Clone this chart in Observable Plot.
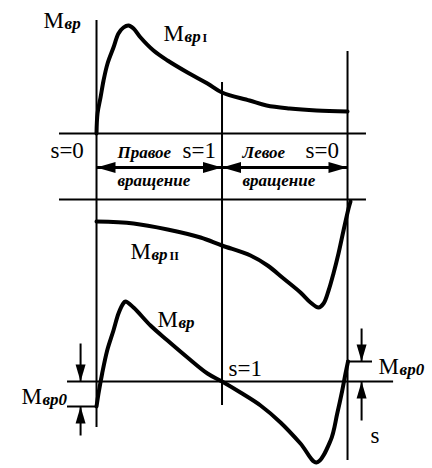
<!DOCTYPE html>
<html>
<head>
<meta charset="utf-8">
<script src="https://cdn.jsdelivr.net/npm/d3@7"></script>
<script src="https://cdn.jsdelivr.net/npm/@observablehq/plot@0.6"></script>
<style>
  html, body { margin: 0; padding: 0; background: #fff; }
  #chart svg { display: block; }
</style>
</head>
<body>
<div id="chart"></div>
<script>
// Horizontal position: 0 = s=0 (right rotation), 1 = s=1 (standstill), 2 = s=0 (left rotation).
// Torques are relative units, positive upward from each panel's zero line.

// Forward-field torque M_вр I
const posI    = [0, 0.008, 0.032, 0.056, 0.088, 0.135, 0.175, 0.215, 0.255, 0.295, 0.351, 0.454, 0.566, 0.725, 0.884, 1.0, 1.219, 1.355, 1.538, 1.753, 2.0];
const torqueI = [0, 0.20, 0.36, 0.53, 0.70, 0.86, 1.00, 1.06, 1.08, 1.05, 0.96, 0.83, 0.73, 0.61, 0.50, 0.41, 0.33, 0.28, 0.25, 0.23, 0.22];

// Backward-field torque M_вр II
const posII    = [0, 0.295, 0.566, 0.829, 1.0, 1.227, 1.363, 1.490, 1.625, 1.705, 1.769, 1.809, 1.849, 1.888, 1.928, 1.968, 2.008, 2.024];
const torqueII = [-0.22, -0.24, -0.30, -0.38, -0.46, -0.56, -0.66, -0.79, -0.93, -1.03, -1.08, -1.04, -0.91, -0.74, -0.54, -0.31, -0.09, -0.02];

// Resulting torque M_вр = M_вр I + M_вр II
const posSum    = [0, 0.016, 0.045, 0.085, 0.135, 0.175, 0.213, 0.231, 0.295, 0.430, 0.566, 0.725, 0.884, 1.0, 1.147, 1.307, 1.466, 1.625, 1.753, 1.865, 1.918, 1.958, 1.984, 2.004];
const torqueSum = [-0.25, -0.12, 0.08, 0.31, 0.51, 0.68, 0.78, 0.80, 0.74, 0.56, 0.41, 0.24, 0.08, 0, -0.11, -0.24, -0.41, -0.62, -0.81, -0.59, -0.32, -0.09, 0.08, 0.20];

// Zero lines of the three panels on the common vertical scale
const zeroI = 3.35, zeroII = 2.69, zeroSum = 0.87;

// Vertical slip axes
const slipAxisPos    = [0, 1, 2];
const slipAxisTop    = [4.48, 3.86, 4.17];
const slipAxisBottom = [0.41, 0.63, 0.08];

// Horizontal lines: torque zero lines and dimension lines for M_вр0
const hLineLevel = [zeroI, zeroII, zeroSum, 0.62, 1.07];
const hLineFrom  = [-0.295, -0.295, -0.231, -0.231, 1.992];
const hLineTo    = [2.151, 2.151, 2.367, 0, 2.199];

// Rotation ranges (double arrows)
const spanLevel = 3.01;
const spanFrom  = [0, 1];
const spanTo    = [1, 2];

// Dimension arrows for M_вр0
const dimPos  = [-0.127, -0.127, 2.112, 2.112];
const dimFrom = [1.25, 0.33, 1.40, 0.48];
const dimTo   = [0.87, 0.62, 1.07, 0.87];

// Labels
const mPos    = [-0.422, 0.534, 0.271, 0.486, -0.598, 2.247];
const mLevel  = [4.41, 4.28, 2.10, 1.42, 0.65, 0.95];
const mSub    = ["вр", "вр", "вр", "вр", "вр0", "вр0"];
const mIndex  = ["", "I", "II", "", "", ""];

const slipText  = ["s=0", "s=1", "s=0", "s=1", "s"];
const slipPos   = [-0.367, 0.685, 1.665, 1.052, 2.183];
const slipLevel = [3.11, 3.11, 3.11, 0.93, 0.26];

const rotText  = ["Правое", "Левое", "вращение", "вращение"];
const rotPos   = [0.167, 1.163, 0.167, 1.163];
const rotLevel = [3.11, 3.11, 2.83, 2.83];

// Build tables
const curves = [
  ...posI.map((u, i) => ({name: "I", u, level: zeroI + torqueI[i]})),
  ...posII.map((u, i) => ({name: "II", u, level: zeroII + torqueII[i]})),
  ...posSum.map((u, i) => ({name: "sum", u, level: zeroSum + torqueSum[i]}))
];
const axes = slipAxisPos.map((u, i) => ({u, top: slipAxisTop[i], bottom: slipAxisBottom[i]}));
const hLines = hLineLevel.map((level, i) => ({level, from: hLineFrom[i], to: hLineTo[i]}));
const spans = spanFrom.map((from, i) => ({from, to: spanTo[i]}));
const spanHeads = spans.flatMap(d => [
  {u: d.from, level: spanLevel, angle: 180},
  {u: d.to, level: spanLevel, angle: 0}
]);
const dims = dimPos.map((u, i) => ({u, from: dimFrom[i], to: dimTo[i]}));
const dimHeads = dims.map(d => ({u: d.u, level: d.to, angle: d.to < d.from ? 90 : -90}));
const mLabels = mPos.map((u, i) => ({u, level: mLevel[i], sub: mSub[i], index: mIndex[i]}));
const slipLabels = slipText.map((text, i) => ({text, u: slipPos[i], level: slipLevel[i]}));
const rotLabels = rotText.map((text, i) => ({text, u: rotPos[i], level: rotLevel[i]}));

// Filled arrowhead pointing along +x with its tip at the anchor point
const arrowHead = (len, half) => ({
  draw(context) {
    context.moveTo(0, 0);
    context.lineTo(-len, -half);
    context.lineTo(-len, half);
    context.closePath();
  }
});

const serif = "Liberation Serif";

const chart = Plot.plot({
  width: 432,
  height: 468,
  margin: 0,
  style: {background: "#fff"},
  x: {domain: [-0.765, 2.677], axis: null},
  y: {domain: [0, 4.68], axis: null},
  marks: [
    Plot.ruleX(axes, {x: "u", y1: "bottom", y2: "top", stroke: "#000", strokeWidth: 2}),
    Plot.ruleY(hLines, {y: "level", x1: "from", x2: "to", stroke: "#000", strokeWidth: 2}),
    Plot.link(spans, {x1: "from", x2: "to", y1: spanLevel, y2: spanLevel, stroke: "#000", strokeWidth: 3}),
    Plot.dot(spanHeads, {x: "u", y: "level", rotate: "angle", symbol: arrowHead(19, 5.5), fill: "#000"}),
    Plot.link(dims, {x1: "u", x2: "u", y1: "from", y2: "to", stroke: "#000", strokeWidth: 2}),
    Plot.dot(dimHeads, {x: "u", y: "level", rotate: "angle", symbol: arrowHead(17, 5), fill: "#000"}),
    Plot.line(curves, {x: "u", y: "level", z: "name", curve: "catmull-rom", stroke: "#000", strokeWidth: 4, strokeLinejoin: "round", strokeLinecap: "round"}),
    Plot.text(mLabels, {x: "u", y: "level", text: () => "M", textAnchor: "start", lineAnchor: "bottom", fontFamily: serif, fontSize: 23, fill: "#000"}),
    Plot.text(mLabels, {x: "u", y: "level", text: "sub", dx: 21, dy: 1, textAnchor: "start", lineAnchor: "bottom", fontFamily: serif, fontSize: 17, fontStyle: "italic", fontWeight: "bold", fill: "#000"}),
    Plot.text(mLabels, {x: "u", y: "level", text: "index", dx: 39, dy: 1, textAnchor: "start", lineAnchor: "bottom", fontFamily: serif, fontSize: 12, fontWeight: "bold", fill: "#000"}),
    Plot.text(slipLabels, {x: "u", y: "level", text: "text", textAnchor: "start", lineAnchor: "bottom", fontFamily: serif, fontSize: 23, fill: "#000"}),
    Plot.text(rotLabels, {x: "u", y: "level", text: "text", textAnchor: "start", lineAnchor: "bottom", fontFamily: serif, fontSize: 17, fontStyle: "italic", fontWeight: "bold", fill: "#000"})
  ]
});

document.getElementById("chart").append(chart);
</script>
</body>
</html>
